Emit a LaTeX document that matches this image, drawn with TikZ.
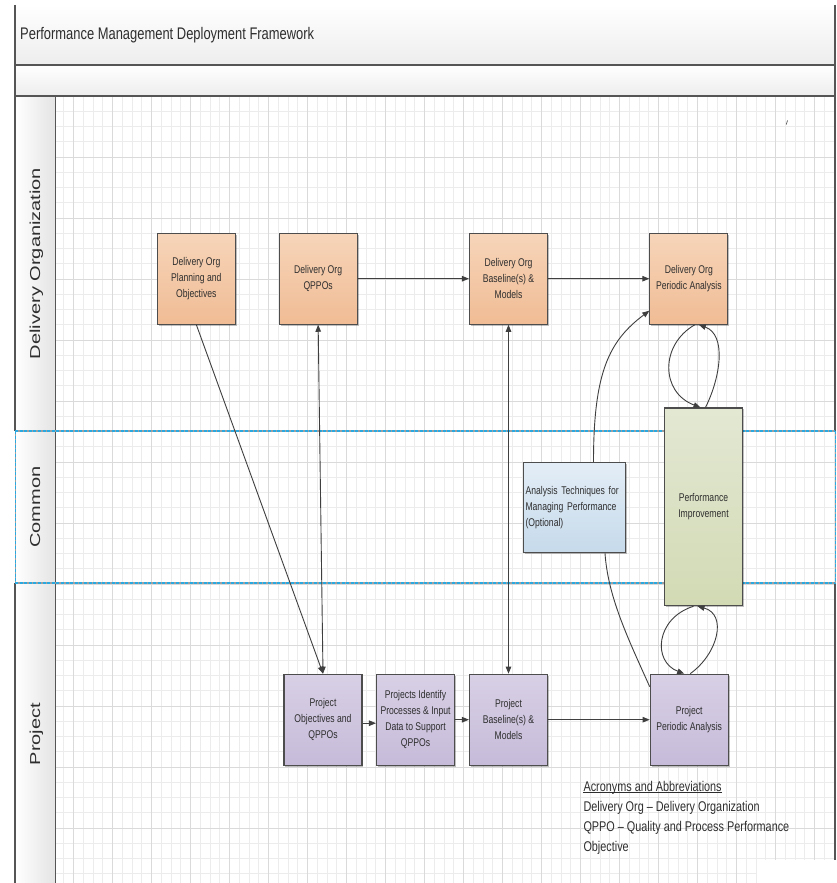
\documentclass[tikz,border=0pt]{standalone}
\usepackage{fontspec}
\setmainfont{Liberation Sans}
\newfontfamily\nf{Liberation Sans}[FakeStretch=0.77]
\usetikzlibrary{arrows.meta,shadows}
\definecolor{bordc}{HTML}{555555}
\definecolor{boxline}{HTML}{4D4D4D}
\definecolor{arrc}{HTML}{3F3F3F}
\definecolor{txtc}{HTML}{2E2E2E}
\definecolor{gridmin}{HTML}{ECECEC}
\definecolor{gridmaj}{HTML}{DADADA}
\definecolor{laneblue}{HTML}{2AA9E0}
\definecolor{orTop}{HTML}{F7D5B9}
\definecolor{orBot}{HTML}{F0BC95}
\definecolor{puTop}{HTML}{D8D0E5}
\definecolor{puBot}{HTML}{C6BBD9}
\definecolor{grTop}{HTML}{E3E8D3}
\definecolor{grBot}{HTML}{D2DAB4}
\definecolor{blTop}{HTML}{E3EDF6}
\definecolor{blBot}{HTML}{C6DAEB}
\definecolor{bandBot}{HTML}{EDEDED}
\definecolor{colR}{HTML}{E4E4E4}
\begin{document}
\begin{tikzpicture}[x=1pt,y=-1pt,
  box/.style={draw=boxline,line width=1.1pt,minimum width=78pt,minimum height=91pt,inner sep=1.5pt,align=center,text=txtc,font=\nf\fontsize{11.2}{16}\selectfont,drop shadow={shadow xshift=1.4pt,shadow yshift=-1.4pt,opacity=0.25,fill=black}},
  obox/.style={box,top color=orTop,bottom color=orBot},
  pbox/.style={box,top color=puTop,bottom color=puBot},
  conn/.style={draw=arrc,line width=0.9pt,-{Triangle[length=7pt,width=5.5pt]}},
  dbl/.style={draw=arrc,line width=0.9pt,{Triangle[length=7pt,width=5.5pt]}-{Triangle[length=7pt,width=5.5pt]}},
  curveline/.style={draw=arrc,line width=0.9pt},
  gmin/.style={draw=gridmin,line width=0.6pt},
  gmaj/.style={draw=gridmaj,line width=0.8pt},
  framel/.style={draw=bordc,line width=1.2pt},
  lanegray/.style={draw=gray!75,line width=1.3pt},
  lanesep/.style={draw=laneblue,line width=1.3pt,dash pattern=on 3pt off 1.6pt},
  lanelabel/.style={rotate=90,anchor=base,inner sep=0pt,text=txtc,font=\fontsize{20}{24}\selectfont},
  ack/.style={anchor=base west,inner sep=0pt,text=txtc,font=\nf\fontsize{14.1}{18}\selectfont}
]
\useasboundingbox (0,0) rectangle (836,883);
\fill[white] (0,0) rectangle (836,883);
% title bands
\shade[top color=white,bottom color=bandBot] (15,5) rectangle (835,65);
\shade[top color=white,bottom color=bandBot] (15,65) rectangle (835,96);
% lane label column
\shade[left color=white,right color=colR] (15,96) rectangle (55,883);
% grid
\begin{scope}
\clip (55,96) rectangle (835,883);
\foreach \i in {0,...,79} \draw[gmin] ({63.55+9.75*\i},96) -- ++(0,787);
\foreach \j in {1,...,51} \draw[gmin] (55,{96+15.25*\j}) -- (835,{96+15.25*\j});
\foreach \k in {0,...,19} \draw[gmaj] ({73.3+39*\k},96) -- ++(0,787);
\foreach \k in {1,...,12} \draw[gmaj] (55,{96+61*\k}) -- (835,{96+61*\k});
\end{scope}
\fill[white] (757,860) rectangle (836,883);
% frame lines
\draw[framel,line width=1.5pt] (15,65) -- (835,65);
\draw[framel,line width=1.5pt] (15,96) -- (835,96);
\draw[framel] (15,5) -- (15,431);
\draw[framel] (15,583) -- (15,883);
\draw[framel] (835,5) -- (835,431);
\draw[framel] (835,583) -- (835,860);
\draw[framel,line width=1pt] (55,96) -- (55,883);
\draw[lanegray,line width=0.8pt] (15,431) -- (15,583);
\draw[lanesep,line width=0.8pt] (15,431) -- (15,583);
\draw[lanegray,line width=0.8pt] (835,431) -- (835,583);
\draw[lanesep,line width=0.8pt] (835,431) -- (835,583);
\draw[lanegray] (15,431) -- (835,431);
\draw[lanesep] (15,431) -- (835,431);
\draw[lanegray] (15,583) -- (835,583);
\draw[lanesep] (15,583) -- (835,583);
\draw[arrc,line width=0.6pt] (786.3,124.5) -- (787.5,120.5);
% title and lane labels
\node[anchor=base west,inner sep=0pt,text=txtc,font=\nf\fontsize{16.8}{20}\selectfont] (title) at (20,40) {Performance Management Deployment Framework};
\node[lanelabel] (laneD) at (40,263.5) {\scalebox{1}[0.72]{Delivery Organization}};
\node[lanelabel] (laneC) at (40,507) {\scalebox{1}[0.72]{Common}};
\node[lanelabel] (laneP) at (40,734) {\scalebox{1}[0.72]{Project}};
% boxes
\node[obox] (A) at (196.35,278.7) {Delivery Org\\Planning and\\Objectives};
\node[obox] (B) at (318.15,278.7) {Delivery Org\\QPPOs};
\node[obox] (C) at (508.5,278.7) {Delivery Org\\Baseline(s) \&\\Models};
\node[obox] (D) at (688.85,278.7) {Delivery Org\\Periodic Analysis};
\node[pbox] (E) at (323,719.7) {Project\\Objectives and\\QPPOs};
\node[pbox] (F) at (415.5,719.7) {Projects Identify\\Processes \& Input\\Data to Support\\QPPOs};
\node[pbox] (G) at (508.5,719.7) {Project\\Baseline(s) \&\\Models};
\node[pbox] (H) at (689.2,719.7) {Project\\Periodic Analysis};
\node[box,top color=blTop,bottom color=blBot,minimum width=102.4pt,minimum height=90.4pt,text width=98pt,inner sep=2pt,align=left] (I) at (574.5,507.5) {Analysis Techniques for\\Managing Performance\\(Optional)};
\node[box,top color=grTop,bottom color=grBot,minimum width=78.4pt,minimum height=197.7pt] (J) at (703.5,506.85) {Performance\\Improvement};
% connectors
\draw[conn] (A.south) -- (E.north);
\draw[dbl] (B.south) -- (E.north);
\draw[conn] (B.east) -- (C.west);
\draw[conn] (C.east) -- (D.west);
\draw[dbl] (C.south) -- (G.north);
\draw[conn] ([yshift=-3.5pt]E.east) -- ([yshift=-3.5pt]F.west);
\draw[conn] (F.east) -- (G.west);
\draw[conn] (G.east) -- (H.west);
\draw[conn] ([xshift=19pt]I.north) .. controls +(0,-90) and +(-40,30) .. ([yshift=14pt]D.south west);
\draw[curveline] ([xshift=30.5pt]I.south) .. controls +(3,45) and +(-20,-45) .. ([yshift=-13pt]H.north west);
\draw[conn] ([xshift=6pt]D.south) .. controls +(-35,20) and +(-40,-15) .. ([xshift=-3pt]J.north);
\draw[conn] ([xshift=2pt]J.north) .. controls +(15,-30) and +(28,10) .. ([xshift=10pt]D.south);
\draw[conn] ([xshift=-10pt]J.south) .. controls +(-38,12) and +(-32,-12) .. ([xshift=-5pt]H.north);
\draw[conn] ([xshift=1pt]H.north) .. controls +(28,-20) and +(30,8) .. ([xshift=-6pt]J.south);
% acronyms
\node[ack] (ac1) at (583.3,791) {Acronyms and Abbreviations};
\draw[txtc,line width=0.7pt] ([yshift=-1.7pt]ac1.base west) -- ([yshift=-1.7pt]ac1.base east);
\node[ack] (ac2) at (583.3,811.2) {Delivery Org – Delivery Organization};
\node[ack] (ac3) at (583.3,831.4) {QPPO – Quality and Process Performance};
\node[ack] (ac4) at (583.3,851.6) {Objective};
\end{tikzpicture}
\end{document}
